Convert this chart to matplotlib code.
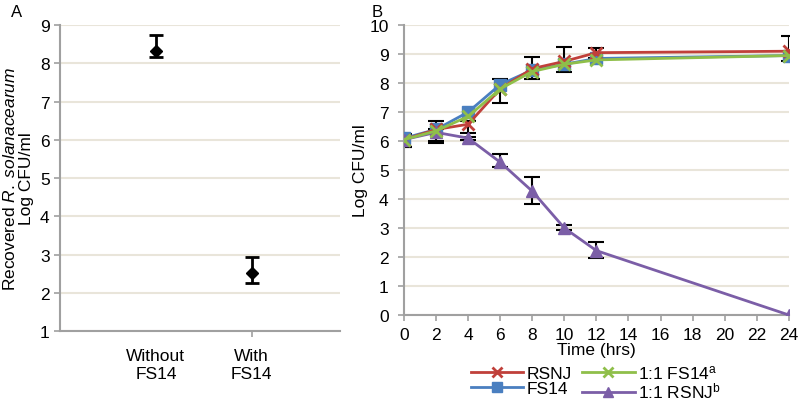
import numpy as np
import matplotlib.pyplot as plt

plt.rcParams['font.family'] = ['Liberation Sans', 'DejaVu Sans']
plt.rcParams['mathtext.fontset'] = 'custom'
plt.rcParams['mathtext.rm'] = 'Liberation Sans'
plt.rcParams['mathtext.it'] = 'Liberation Sans:italic'

# Panel A data
groups = ["Without\nFS14", "With\nFS14"]
recovered = [8.32, 2.52]
rec_err_low = [0.16, 0.26]
rec_err_high = [0.42, 0.42]

# Panel B data
hours = [0, 2, 4, 6, 8, 10, 12, 24]
rsnj = [6.05, 6.40, 6.58, 7.80, 8.50, 8.75, 9.05, 9.10]
fs14 = [6.10, 6.40, 7.00, 7.95, 8.45, 8.65, 8.85, 8.95]
mix_fs14 = [6.05, 6.35, 6.85, 7.80, 8.40, 8.65, 8.80, 8.95]
mix_rsnj = [6.05, 6.30, 6.10, 5.27, 4.27, 3.00, 2.22, 0.00]
top_err_low = [0.25, 0.40, 0.30, 0.50, 0.35, 0.35, 0.20, 0.35]
top_err_high = [0.20, 0.30, 0.10, 0.33, 0.40, 0.50, 0.15, 0.52]
bot_err_low = [0.25, 0.37, 0.05, 0.17, 0.44, 0.08, 0.26, 0.0]
bot_err_high = [0.10, 0.10, 0.05, 0.28, 0.49, 0.10, 0.30, 0.0]

grid_c = '#e9e5da'
spine_c = '#a0a0a0'

fig = plt.figure(figsize=(8, 4.02), dpi=100)

# ---- Panel A
axA = fig.add_axes([0.075, 0.174, 0.35, 0.761])
xa = np.arange(1, len(groups) + 1)
axA.errorbar(xa, recovered, yerr=[rec_err_low, rec_err_high], fmt='D', color='black',
             ms=6, capsize=5, capthick=2, elinewidth=2, zorder=3)
axA.set_xlim(0, 2.92)
axA.set_ylim(1, 9)
axA.set_yticks(range(1, 10))
axA.set_xticks([2])
axA.set_xticklabels([''])
for x, g in zip(xa, groups):
    axA.text(x, 0.55, g, ha='center', va='top', fontsize=12.5, linespacing=1.2)
axA.yaxis.grid(True, color=grid_c, lw=1.5)
axA.set_axisbelow(True)
for s in ['top', 'right']:
    axA.spines[s].set_visible(False)
for s in ['left', 'bottom']:
    axA.spines[s].set_color(spine_c)
    axA.spines[s].set_linewidth(1.5)
axA.tick_params(colors=spine_c, labelcolor='black', labelsize=12.5, length=4, width=1.2)
axA.set_ylabel("Recovered $\\it{R.\\ solanacearum}$\nLog CFU/ml", fontsize=12.5, labelpad=4, linespacing=1.1)
fig.text(0.014, 0.97, "A", fontsize=12, va='center')

# ---- Panel B
axB = fig.add_axes([0.505, 0.214, 0.481, 0.721])
axB.errorbar(hours, rsnj, yerr=[top_err_low, top_err_high], fmt='none', ecolor='black',
             capsize=5.5, capthick=1.5, elinewidth=1.5, zorder=2)
axB.errorbar(hours, mix_rsnj, yerr=[bot_err_low, bot_err_high], fmt='none', ecolor='black',
             capsize=5.5, capthick=1.5, elinewidth=1.5, zorder=2)
l1, = axB.plot(hours, rsnj, color='#c0403a', lw=2, marker='x', ms=8, mew=2, zorder=4, label='RSNJ')
l2, = axB.plot(hours, fs14, color='#4a7fc0', lw=2, marker='s', ms=9, zorder=3, label='FS14')
l3, = axB.plot(hours, mix_fs14, color='#8fbf4a', lw=2, marker='x', ms=8, mew=2, zorder=5, label='1:1 FS14$^{\\rm a}$')
l4, = axB.plot(hours, mix_rsnj, color='#7b5ea7', lw=2, marker='^', ms=9, zorder=4, label='1:1 RSNJ$^{\\rm b}$')
axB.set_xlim(0, 24)
axB.set_ylim(0, 10)
axB.set_xticks(range(0, 25, 2))
axB.set_yticks(range(0, 11))
axB.yaxis.grid(True, color=grid_c, lw=1.5)
axB.set_axisbelow(True)
for s in ['top', 'right']:
    axB.spines[s].set_visible(False)
for s in ['left', 'bottom']:
    axB.spines[s].set_color(spine_c)
    axB.spines[s].set_linewidth(1.5)
axB.tick_params(colors=spine_c, labelcolor='black', labelsize=12.5, length=4, width=1.2)
axB.tick_params(axis='y', pad=7)
axB.tick_params(axis='x', pad=5)
axB.set_xlabel("Time (hrs)", fontsize=12.5, labelpad=0)
axB.set_ylabel("Log CFU/ml", fontsize=12.5, labelpad=1)
for lab in axB.get_xticklabels() + axB.get_yticklabels():
    lab.set_clip_on(False)
fig.text(0.464, 0.97, "B", fontsize=12, va='center')

fig.legend(handles=[l1, l2, l3, l4], ncol=2, loc='upper center', bbox_to_anchor=(0.745, 0.112),
           frameon=False, fontsize=12.5, handlelength=3.0, columnspacing=0.6, handletextpad=0.2,
           labelspacing=0.0, borderaxespad=0, markerscale=0.85)

fig.savefig('out.png', dpi=100)
